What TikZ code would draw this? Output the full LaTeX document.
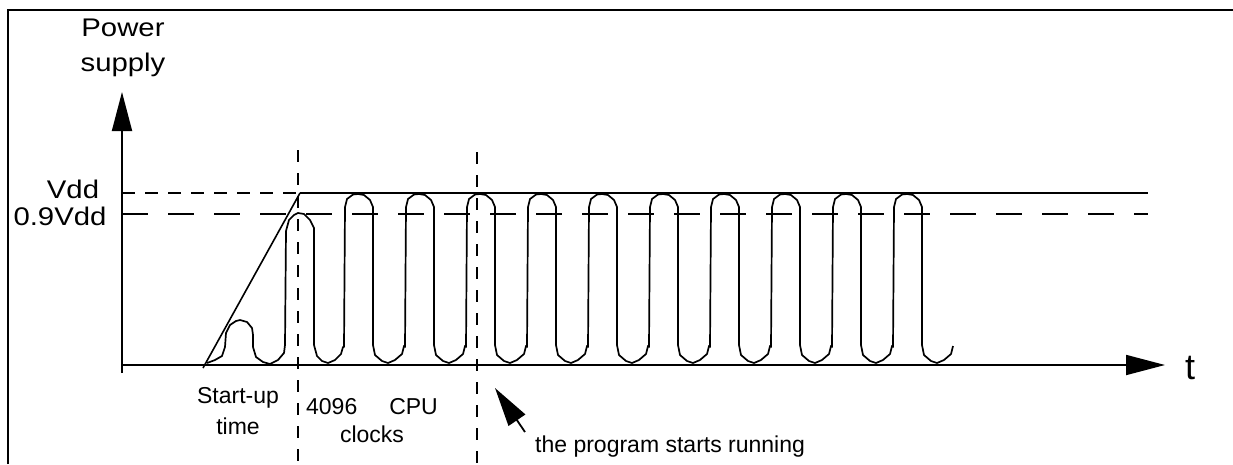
\documentclass[tikz,border=0pt]{standalone}
\usepackage{fontspec}
\setmainfont{Liberation Sans}
\newfontfamily\widesans{Liberation Sans}[FakeStretch=1.15]
\usetikzlibrary{arrows.meta}

\begin{document}
\begin{tikzpicture}[x=1pt,y=1pt,
  axis/.style={line width=1.8pt,-{Triangle[length=39pt,width=20pt]}},
  wave/.style={line width=1.7pt,line join=round},
  guide/.style={line width=1.6pt,dash pattern=on 12pt off 11pt},
  lbl/.style={font=\fontsize{23}{30}\selectfont,inner sep=0pt,anchor=base,align=center},
  biglbl/.style={font=\widesans\fontsize{25.5}{35}\selectfont,inner sep=0pt,anchor=base,align=center}]
\useasboundingbox (-122,-99) rectangle (1111,365);
% frame (cut at right and bottom)
\draw[line width=2.6pt] (-114,-99) -- (-114,355) -- (1111,355);
% axes
\coordinate (O) at (0,0);
\coordinate (ybot) at (0,-8);
\coordinate (ytip) at (0,273);
\coordinate (xtip) at (1043,0);
\draw[axis] (ybot) -- (ytip);
\draw[axis] (O) -- (xtip);
\node[biglbl] (power) at (1,293) {Power\\supply};
\node[lbl,font=\fontsize{36}{40}\selectfont] (tlabel) at (1068,-14) {t};
% levels
\node[biglbl] (vdd) at (-49,167) {Vdd};
\node[biglbl] (vddnine) at (-62,140) {0.9Vdd};
\coordinate (vddend) at (178,172);
\draw[line width=1.5pt,dash pattern=on 13pt off 10pt] (0,172) -- (vddend);
\draw[line width=1.4pt] (vddend) -- (1026,172);
\draw[line width=1.5pt,dash pattern=on 26pt off 20pt] (0,151) -- (1026,151);
\draw[line width=1.6pt] (81,-3) -- (vddend);
% time marks
\draw[guide] (176,215) -- (176,-99);
\draw[guide] (355,213) -- (355,-99);
% clock
\draw[wave] (85,2) -- (93,5) -- (100,9) -- (103,18) -- (104,32) -- (108,40) -- (114,44)
  -- (118,45) -- (125,43) -- (130,37) -- (131,30) -- (131,18) -- (134,8) -- (141,3)
  -- (148,1) -- (156,5) -- (162,12) -- (163,20) -- (164,134) -- (167,145) -- (172,150)
  -- (176,152) -- (182,151) -- (188,145) -- (192,137) -- (192,20) -- (195,9) -- (200,4)
  -- (206,2) -- (213,5) -- (219,11) -- (221,18)
  \foreach \c in {236,297,...,785}{
  -- (\c-14,18) -- (\c-13,158) -- (\c-11,166) -- (\c-5,170.5) -- (\c,171) -- (\c+6,170)
  -- (\c+12,165) -- (\c+15,158) -- (\c+15,20) -- (\c+17,10) -- (\c+24,4) -- (\c+30,2)
  -- (\c+37,5) -- (\c+44,11) -- (\c+46,19)};
% labels
\node[lbl,font=\fontsize{23}{31}\selectfont] (startup) at (116,-69) {Start-up\\time};
\node[lbl,font=\fontsize{23}{28}\selectfont] (cpuclk) at (250,-77) {4096\hspace{32pt}CPU\\clocks};
\node[lbl,anchor=base west] (running) at (413,-87) {the program starts running};
\coordinate (ptail) at (403,-67);
\coordinate (ptip) at (373,-23);
\draw[axis] (ptail) -- (ptip);
\end{tikzpicture}
\end{document}
